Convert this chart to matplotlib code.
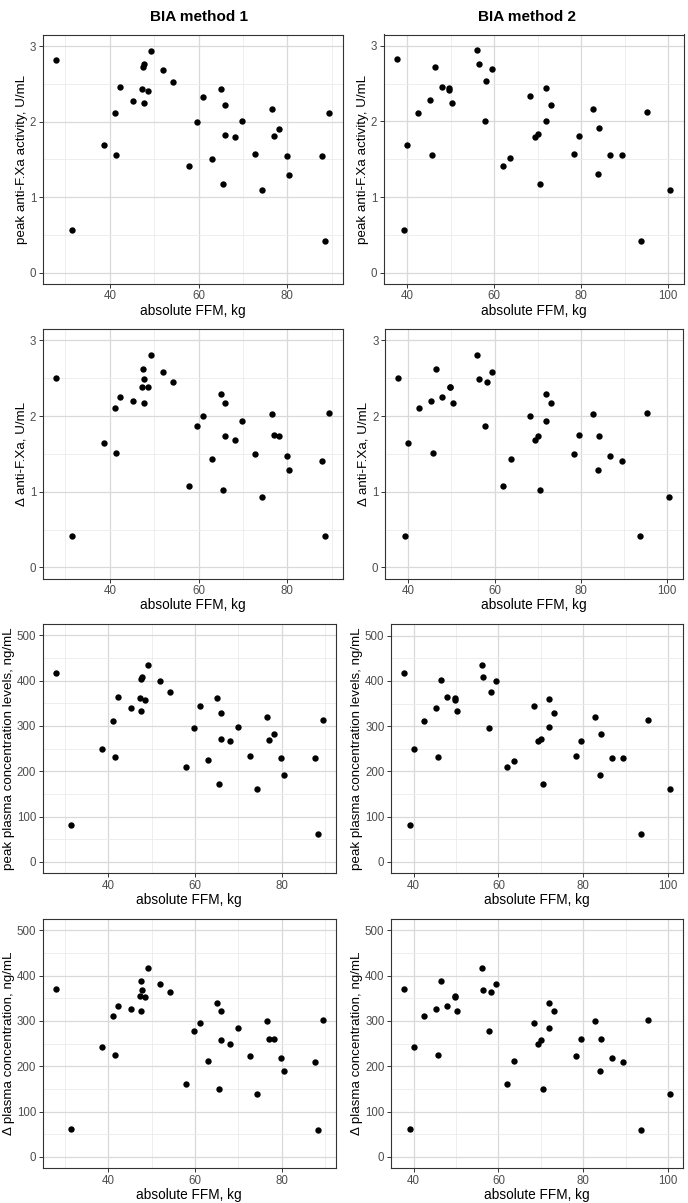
import matplotlib
matplotlib.use('Agg')
import matplotlib.pyplot as plt
from matplotlib.ticker import MultipleLocator

plt.rcParams['font.family'] = ['Liberation Sans', 'DejaVu Sans']

# FFM por paciente, dos metodos BIA
ffm_m1 = [27.9, 31.5, 38.65, 41.1, 41.5, 42.3, 45.3, 47.3, 47.6, 47.5, 47.7, 48.5,
          49.2, 52.0, 54.3, 57.9, 59.7, 61.1, 63.0, 65.0, 65.4, 66.0, 66.0, 68.1,
          69.8, 72.7, 74.3, 76.6, 77.0, 78.1, 79.9, 80.4, 87.7, 88.4, 89.4]
ffm_m2 = [37.7, 39.2, 40.0, 42.5, 45.8, 47.9, 45.2, 49.7, 50.3, 46.5, 56.4, 49.7,
          56.0, 59.5, 58.2, 62.0, 57.8, 68.3, 63.7, 72.0, 70.5, 73.1, 70.0, 69.3,
          72.0, 78.3, 100.5, 82.8, 79.5, 84.2, 86.7, 83.9, 89.5, 93.7, 95.2]

peak_xa = [2.82, 0.56, 1.69, 2.11, 1.56, 2.46, 2.28, 2.44, 2.25, 2.72, 2.76, 2.41,
           2.94, 2.69, 2.53, 1.41, 2.00, 2.33, 1.51, 2.44, 1.17, 2.22, 1.83, 1.80,
           2.01, 1.57, 1.09, 2.17, 1.81, 1.91, 1.55, 1.30, 1.55, 0.42, 2.12]
delta_xa = [2.50, 0.42, 1.64, 2.10, 1.51, 2.25, 2.20, 2.39, 2.17, 2.62, 2.49, 2.38,
            2.81, 2.58, 2.45, 1.08, 1.87, 2.00, 1.43, 2.29, 1.02, 2.17, 1.74, 1.68,
            1.93, 1.50, 0.93, 2.03, 1.75, 1.74, 1.47, 1.28, 1.41, 0.41, 2.04]
peak_conc = [418, 82, 250, 312, 231, 365, 340, 362, 333, 403, 409, 358,
             435, 399, 375, 209, 296, 345, 224, 361, 173, 329, 271, 267,
             298, 233, 161, 320, 268, 283, 229, 192, 229, 62, 314]
delta_conc = [370, 62, 243, 311, 224, 334, 326, 356, 321, 388, 369, 353,
              416, 382, 363, 160, 277, 296, 212, 339, 151, 321, 258, 249,
              285, 222, 138, 301, 261, 260, 218, 190, 209, 60, 302]

ylabels = ['peak anti-F.Xa activity, U/mL', '\u0394 anti-F.Xa, U/mL',
           'peak plasma concentration levels, ng/mL', '\u0394 plasma concentration, ng/mL']
outcomes = [peak_xa, delta_xa, peak_conc, delta_conc]
titles = ['BIA method 1', 'BIA method 2']

W, H = 688, 1203
fig = plt.figure(figsize=(W / 100, H / 100), dpi=100)

# cajas de los paneles en pixeles: izq, arriba, der, abajo
boxes = [
    [(42.5, 35, 342.7, 284), (383.5, 34.5, 684, 284)],
    [(42.5, 329, 342.7, 578.7), (384.7, 329, 683, 578.7)],
    [(42.5, 624, 336, 873.3), (390.7, 624.3, 683.3, 873.3)],
    [(42.5, 919, 336, 1168.3), (390.7, 919, 683.3, 1168.3)],
]

def expand(lo, hi, f=0.05):
    d = (hi - lo) * f
    return lo - d, hi + d

for r in range(4):
    y = outcomes[r]
    for c in range(2):
        x = ffm_m1 if c == 0 else ffm_m2
        l, t, rr, b = boxes[r][c]
        ax = fig.add_axes([l / W, 1 - b / H, (rr - l) / W, (b - t) / H])
        ax.scatter(x, y, s=21, color='black', zorder=3, linewidths=0)
        ax.set_xlim(*expand(min(x), max(x)))
        if r < 2:
            ax.set_ylim(*expand(0, 3))
            ax.yaxis.set_major_locator(MultipleLocator(1))
            ax.yaxis.set_minor_locator(MultipleLocator(0.5))
        else:
            ax.set_ylim(*expand(0, 500))
            ax.yaxis.set_major_locator(MultipleLocator(100))
            ax.yaxis.set_minor_locator(MultipleLocator(50))
        ax.xaxis.set_major_locator(MultipleLocator(20))
        ax.xaxis.set_minor_locator(MultipleLocator(10))
        ax.grid(which='major', color='#D9D9D9', linewidth=0.9, zorder=0)
        ax.grid(which='minor', color='#EBEBEB', linewidth=0.6, zorder=0)
        ax.set_axisbelow(True)
        for s in ax.spines.values():
            s.set_color('#333333')
            s.set_linewidth(0.8)
        ax.tick_params(which='major', length=3, width=0.7, color='#333333',
                       labelsize=8.3, labelcolor='#4D4D4D', pad=1.5)
        ax.tick_params(which='minor', length=0)
        ax.set_xlabel('absolute FFM, kg', fontsize=9.8, labelpad=1)
        ax.set_ylabel(ylabels[r], fontsize=9.6, labelpad=1.5)
        if r == 0:
            cx = 199 if c == 0 else 527
            fig.text(cx / W, 1 - 17 / H, titles[c], ha='center', va='center',
                     fontsize=11, fontweight='bold')

plt.savefig('out.png', dpi=100)
